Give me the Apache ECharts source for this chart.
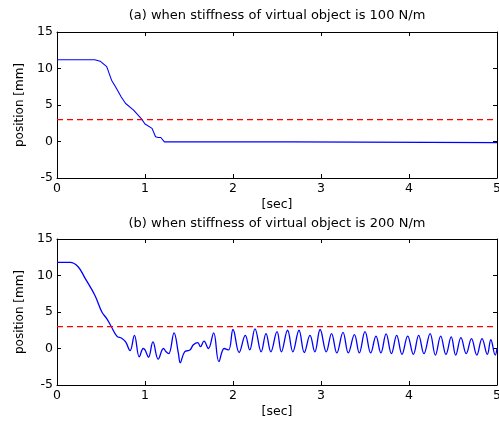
<!DOCTYPE html>
<html><head><meta charset="utf-8">
<script src="https://cdn.jsdelivr.net/npm/echarts@6/dist/echarts.min.js"></script>
<style>html,body{margin:0;padding:0;background:#fff}#c{width:499px;height:421px}</style>
</head><body><div id="c"></div>
<script>
var titles = ['(a) when stiffness of virtual object is 100 N/m', '(b) when stiffness of virtual object is 200 N/m'];
var xName = '[sec]';
var yName = 'position [mm]';
var xTicks = [0, 1, 2, 3, 4, 5];
var yTicks = [-5, 0, 5, 10, 15];
var refLevel = 3;

var tA = [0, 0.43, 0.49, 0.565, 0.62, 0.67, 0.73, 0.78, 0.87, 0.96, 1.0, 1.08, 1.12, 1.15, 1.18, 1.22, 2.65, 2.66, 5.0];
var posA = [11.2, 11.2, 11.0, 10.25, 8.4, 7.4, 6.1, 5.2, 4.3, 3.1, 2.4, 1.8, 0.65, 0.55, 0.55, -0.05, -0.05, -0.15, -0.15];

var tB = [0, 0.15, 0.24, 0.32, 0.43, 0.51, 0.565, 0.615, 0.68, 0.735, 0.78, 0.83, 0.88, 0.935, 0.98, 1.0, 1.04, 1.09, 1.15, 1.21, 1.24, 1.27, 1.33, 1.38, 1.40, 1.45, 1.51, 1.55, 1.6, 1.63, 1.67, 1.72, 1.78, 1.84, 1.9, 1.95, 2.0, 2.07, 2.14, 2.19, 2.25, 2.32, 2.375, 2.43, 2.5, 2.55, 2.62, 2.68, 2.75, 2.81, 2.875, 2.93, 2.99, 3.06, 3.12, 3.18, 3.25, 3.31, 3.38, 3.435, 3.5, 3.565, 3.625, 3.68, 3.74, 3.8, 3.86, 3.92, 3.985, 4.05, 4.11, 4.17, 4.24, 4.3, 4.36, 4.42, 4.48, 4.53, 4.59, 4.65, 4.71, 4.77, 4.83, 4.89, 4.93, 4.98, 5.0];
var posB = [11.8, 11.8, 11.2, 9.6, 7.3, 5.0, 4.1, 3.05, 1.7, 1.4, 0.9, -0.3, 1.8, -1.15, 0.0, -0.2, -1.2, 0.9, -1.45, 0.0, -0.45, -0.7, 2.15, -0.7, -1.95, -0.45, -0.2, 0.5, 0.8, 0.25, 1.0, 0.0, 2.15, -1.8, 0.0, -0.2, 2.6, -0.55, 1.8, -0.2, 2.7, -0.45, 2.05, -0.45, 2.3, -0.45, 2.5, -0.45, 2.5, -0.55, 1.8, -0.45, 2.6, -0.45, 2.05, -0.6, 2.2, -0.6, 1.9, -0.6, 2.3, -0.6, 1.7, -0.6, 2.0, -0.7, 1.8, -0.8, 1.7, -0.8, 1.8, -0.7, 2.05, -0.9, 1.7, -0.8, 1.6, -0.9, 1.5, -0.7, 1.35, -0.9, 1.35, -0.8, 1.2, -0.9, 0.0];

var FONT = 'DejaVu Sans';
function zip(a, b) { return a.map(function (v, i) { return [v, b[i]]; }); }

var grids = [
  { left: 57, right: 2, top: 32, height: 146, outerBoundsMode: 'none', containLabel: false },
  { left: 57, right: 2, top: 239, height: 146, outerBoundsMode: 'none', containLabel: false }
];
var xAxes = [], yAxes = [], series = [];
var xMin = xTicks[0], xMax = xTicks[xTicks.length - 1];
var yMin = yTicks[0], yMax = yTicks[yTicks.length - 1];
grids.forEach(function (g, i) {
  var common = {
    gridIndex: i, min: xMin, max: xMax, interval: 1, type: 'value',
    axisLine: { show: true, onZero: false, lineStyle: { color: '#000', width: 1 } },
    axisTick: { show: true, inside: true, length: 4, lineStyle: { color: '#000' } },
    splitLine: { show: false }
  };
  xAxes.push(Object.assign({}, common, {
    position: 'bottom',
    axisLabel: { show: true, color: '#000', fontFamily: FONT, fontSize: 12.5, margin: 4, hideOverlap: false },
    name: xName, nameLocation: 'middle', nameGap: 20,
    nameTextStyle: { color: '#000', fontFamily: FONT, fontSize: 12.5 }
  }));
  xAxes.push(Object.assign({}, common, { position: 'top', axisLabel: { show: false } }));
  var ycommon = {
    gridIndex: i, min: yMin, max: yMax, interval: 5, type: 'value',
    axisLine: { show: true, onZero: false, lineStyle: { color: '#000', width: 1 } },
    axisTick: { show: true, inside: true, length: 4, lineStyle: { color: '#000' } },
    splitLine: { show: false }
  };
  yAxes.push(Object.assign({}, ycommon, {
    position: 'left',
    axisLabel: { show: true, color: '#000', fontFamily: FONT, fontSize: 12.5, margin: 4 },
    name: yName, nameLocation: 'middle', nameGap: 28,
    nameTextStyle: { color: '#000', fontFamily: FONT, fontSize: 12 }
  }));
  yAxes.push(Object.assign({}, ycommon, { position: 'right', axisLabel: { show: false } }));
});

series.push({
  type: 'line', xAxisIndex: 0, yAxisIndex: 0, data: zip(tA, posA), showSymbol: false,
  lineStyle: { color: '#0000ff', width: 1.1 }, silent: true, animation: false
});
series.push({
  type: 'line', xAxisIndex: 0, yAxisIndex: 0, data: [[xMin, refLevel], [xMax, refLevel]], showSymbol: false,
  lineStyle: { color: '#ff0000', width: 1.1, type: [6, 4] }, silent: true, animation: false
});
series.push({
  type: 'line', xAxisIndex: 2, yAxisIndex: 2, data: zip(tB, posB), showSymbol: false, smooth: 0.4,
  lineStyle: { color: '#0000ff', width: 1.3 }, silent: true, animation: false
});
series.push({
  type: 'line', xAxisIndex: 2, yAxisIndex: 2, data: [[xMin, refLevel], [xMax, refLevel]], showSymbol: false,
  lineStyle: { color: '#ff0000', width: 1.1, type: [6, 4] }, silent: true, animation: false
});

var chart = echarts.init(document.getElementById('c'), null, { renderer: 'canvas' });
chart.setOption({
  animation: false,
  backgroundColor: '#fff',
  title: [
    { text: titles[0], left: 277, top: 9, padding: 0, textAlign: 'center',
      textStyle: { color: '#000', fontFamily: FONT, fontSize: 13, fontWeight: 'normal' } },
    { text: titles[1], left: 277, top: 217, padding: 0, textAlign: 'center',
      textStyle: { color: '#000', fontFamily: FONT, fontSize: 13, fontWeight: 'normal' } }
  ],
  grid: grids,
  xAxis: xAxes,
  yAxis: yAxes,
  series: series
});
</script></body></html>
